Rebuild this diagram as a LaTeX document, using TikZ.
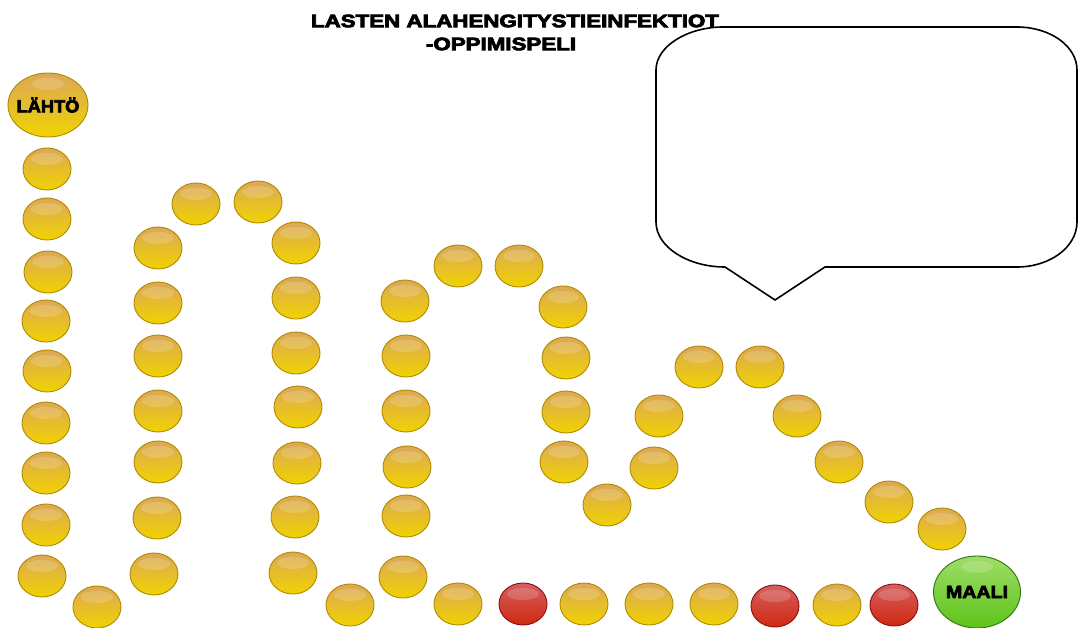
\documentclass[tikz,border=0pt]{standalone}
\usepackage{fontspec}
\setmainfont{Liberation Sans}
\newfontfamily\heavyfont[FakeBold=4]{Liberation Sans Bold}
\usetikzlibrary{shapes.geometric}
\definecolor{goldtop}{HTML}{DCA858}
\definecolor{goldmid}{HTML}{D09E00}
\definecolor{goldbot}{HTML}{F0D200}
\definecolor{goldedge}{HTML}{B08A00}
\definecolor{redtop}{HTML}{D46060}
\definecolor{redmid}{HTML}{B80E0E}
\definecolor{redbot}{HTML}{D02810}
\definecolor{rededge}{HTML}{8A1010}
\definecolor{greentop}{HTML}{A0DC68}
\definecolor{greenmid}{HTML}{44A80C}
\definecolor{greenbot}{HTML}{5CC418}
\definecolor{greenedge}{HTML}{2C780A}
\tikzset{
  beadbase/.style={ellipse, inner sep=0pt, line width=0.9pt,
    minimum width=48pt, minimum height=42pt,
    path picture={\fill[white,opacity=0.16]
      ([yshift=-11pt]path picture bounding box.north) ellipse [x radius=16pt, y radius=6pt];}},
  bead/.style={beadbase, draw=goldedge, top color=goldtop, middle color=goldmid, bottom color=goldbot},
  redbead/.style={beadbase, draw=rededge, top color=redtop, middle color=redmid, bottom color=redbot},
  labeltext/.style={font=\heavyfont\fontsize{17.5}{19}\selectfont, xscale=1.12, transform shape},
  startbead/.style={bead, minimum width=80pt, minimum height=64pt},
  goalbead/.style={beadbase, draw=greenedge, top color=greentop, middle color=greenmid, bottom color=greenbot,
    minimum width=87pt, minimum height=72pt},
  titletext/.style={font=\heavyfont\fontsize{18}{20}\selectfont, inner sep=0pt, xscale=1.24, transform shape},
  bubble/.style={draw=black, line width=1.6pt, fill=white, line join=miter}
}
\begin{document}
\begin{tikzpicture}[x=1pt,y=-1pt]
\useasboundingbox[fill=white] (0,0) rectangle (1080,628);
% title
\node[titletext] (t1) at (515,21) {LASTEN ALAHENGITYSTIEINFEKTIOT};
\node[titletext] (t2) at (501,44) {-OPPIMISPELI};
% speech bubble
\draw[bubble] (723,27) -- (1017,27) .. controls (1050,27) and (1077,46) .. (1077,70)
  -- (1077,222) .. controls (1077,247) and (1050,267) .. (1017,267)
  -- (825,267) -- (775,300) -- (725,267)
  .. controls (688,267) and (656,247) .. (656,222)
  -- (656,70) .. controls (656,46) and (688,27) .. (723,27) -- cycle;
% start
\node[startbead] (start) at (48,105) {};
\node[labeltext, xscale=0.93] (startlabel) at (start.center) {LÄHTÖ};
% column 1
\node[bead] (b1) at (47,169) {};
\node[bead] (b2) at (47,219) {};
\node[bead] (b3) at (48,272) {};
\node[bead] (b4) at (46,321) {};
\node[bead] (b5) at (47,371) {};
\node[bead] (b6) at (46,423) {};
\node[bead] (b7) at (46,473) {};
\node[bead] (b8) at (46,525) {};
\node[bead] (b9) at (42,576) {};
\node[bead] (b10) at (97,607) {};
% column 2
\node[bead] (b11) at (154,574) {};
\node[bead] (b12) at (157,518) {};
\node[bead] (b13) at (158,462) {};
\node[bead] (b14) at (158,411) {};
\node[bead] (b15) at (158,356) {};
\node[bead] (b16) at (158,303) {};
\node[bead] (b17) at (158,248) {};
\node[bead] (b18) at (196,204) {};
\node[bead] (b19) at (258,202) {};
% column 3
\node[bead] (b20) at (296,243) {};
\node[bead] (b21) at (296,298) {};
\node[bead] (b22) at (296,353) {};
\node[bead] (b23) at (298,407) {};
\node[bead] (b24) at (297,463) {};
\node[bead] (b25) at (295,517) {};
\node[bead] (b26) at (293,573) {};
\node[bead] (b27) at (350,605) {};
% column 4
\node[bead] (b28) at (403,577) {};
\node[bead] (b29) at (406,516) {};
\node[bead] (b30) at (407,467) {};
\node[bead] (b31) at (406,411) {};
\node[bead] (b32) at (406,356) {};
\node[bead] (b33) at (405,301) {};
\node[bead] (b34) at (458,266) {};
\node[bead] (b35) at (519,266) {};
% column 5
\node[bead] (b36) at (563,307) {};
\node[bead] (b37) at (566,358) {};
\node[bead] (b38) at (566,412) {};
\node[bead] (b39) at (564,462) {};
\node[bead] (b40) at (607,505) {};
% small hill
\node[bead] (b41) at (654,468) {};
\node[bead] (b42) at (659,416) {};
\node[bead] (b43) at (699,367) {};
\node[bead] (b44) at (760,367) {};
\node[bead] (b45) at (797,416) {};
\node[bead] (b46) at (839,462) {};
\node[bead] (b47) at (889,502) {};
\node[bead] (b48) at (942,529) {};
% bottom row
\node[bead] (r1) at (458,604) {};
\node[redbead] (r2) at (523,604) {};
\node[bead] (r3) at (584,604) {};
\node[bead] (r4) at (649,604) {};
\node[bead] (r5) at (714,604) {};
\node[redbead] (r6) at (775,606) {};
\node[bead] (r7) at (837,605) {};
\node[redbead] (r8) at (894,605) {};
% goal
\node[goalbead] (goal) at (977,592) {};
\node[labeltext] (goallabel) at (goal.center) {MAALI};
\end{tikzpicture}
\end{document}
